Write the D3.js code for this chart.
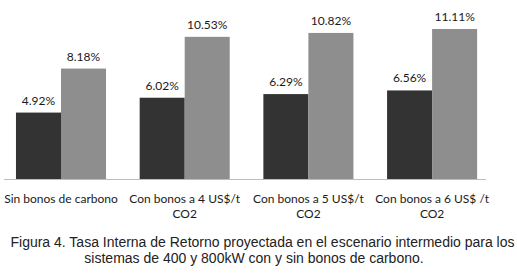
<!DOCTYPE html>
<html>
<head>
<meta charset="utf-8">
<script src="https://cdn.jsdelivr.net/npm/d3@7"></script>
<style>
  html, body { margin: 0; padding: 0; background: #fff; }
  svg { display: block; }
</style>
</head>
<body>
<svg id="chart" width="517" height="277"></svg>
<script>
const categories = [
  ["Sin bonos de carbono"],
  ["Con bonos a 4 US$/t", "CO2"],
  ["Con bonos a 5 US$/t", "CO2"],
  ["Con bonos a 6 US$ /t", "CO2"]
];
const seriesNames = ["400kW", "800kW"];
const values400 = [4.92, 6.02, 6.29, 6.56];
const values800 = [8.18, 10.53, 10.82, 11.11];
const valueLabels400 = ["4.92%", "6.02%", "6.29%", "6.56%"];
const valueLabels800 = ["8.18%", "10.53%", "10.82%", "11.11%"];
const captionLines = [
  "Figura 4. Tasa Interna de Retorno proyectada en el escenario intermedio para los",
  "sistemas de 400 y 800kW con y sin bonos de carbono."
];

const svg = d3.select("#chart");
const catKeys = categories.map((c, i) => i);
const colors = ["#333333", "#8e8e8e"];

const x0 = d3.scaleBand().domain(catKeys).range([-0.85, 493.95]).paddingInner(0.272).paddingOuter(0.136);
const x1 = d3.scaleBand().domain(seriesNames).range([0, x0.bandwidth()]).padding(0);
const y = d3.scaleLinear().domain([0, 12]).range([179, 17]);

const data = catKeys.map(i => ({
  i,
  vals: [
    { s: seriesNames[0], v: values400[i], label: valueLabels400[i] },
    { s: seriesNames[1], v: values800[i], label: valueLabels800[i] }
  ]
}));

const groups = svg.selectAll("g.grp").data(data).join("g")
  .attr("class", "grp")
  .attr("transform", d => `translate(${x0(d.i)},0)`);

groups.selectAll("rect").data(d => d.vals).join("rect")
  .attr("x", d => x1(d.s))
  .attr("width", x1.bandwidth())
  .attr("y", d => y(d.v))
  .attr("height", d => y(0) - y(d.v))
  .attr("fill", (d, j) => colors[j]);

groups.selectAll("text.val").data(d => d.vals).join("text")
  .attr("class", "val")
  .attr("x", d => x1(d.s) + x1.bandwidth() / 2)
  .attr("y", d => y(d.v) - 8)
  .attr("text-anchor", "middle")
  .attr("font-family", "Lato, 'Open Sans', sans-serif")
  .attr("font-size", "12px")
  .attr("fill", "#1a1a1a")
  .text(d => d.label);

// axis baseline
svg.append("line")
  .attr("x1", 4).attr("x2", 486)
  .attr("y1", y(0) + 0.5).attr("y2", y(0) + 0.5)
  .attr("stroke", "#bdbdbd").attr("stroke-width", 1.2);

// category labels
const catText = svg.selectAll("text.cat").data(categories).join("text")
  .attr("class", "cat")
  .attr("x", (d, i) => x0(i) + x0.bandwidth() / 2)
  .attr("y", 203)
  .attr("text-anchor", "middle")
  .attr("font-family", "Lato, 'Open Sans', sans-serif")
  .attr("font-size", "12px")
  .attr("fill", "#1a1a1a");
catText.selectAll("tspan").data(d => d).join("tspan")
  .attr("x", function() { return d3.select(this.parentNode).attr("x"); })
  .attr("dy", (d, k) => k === 0 ? 0 : 15)
  .text(d => d);

// caption
const capX = [262.5, 254];
svg.selectAll("text.cap").data(captionLines).join("text")
  .attr("class", "cap")
  .attr("x", (d, i) => capX[i])
  .attr("y", (d, i) => 247 + i * 16)
  .attr("text-anchor", "middle")
  .attr("font-family", "'Liberation Sans', Arial, sans-serif")
  .attr("font-size", "14px")
  .attr("fill", "#222")
  .text(d => d);
</script>
</body>
</html>
